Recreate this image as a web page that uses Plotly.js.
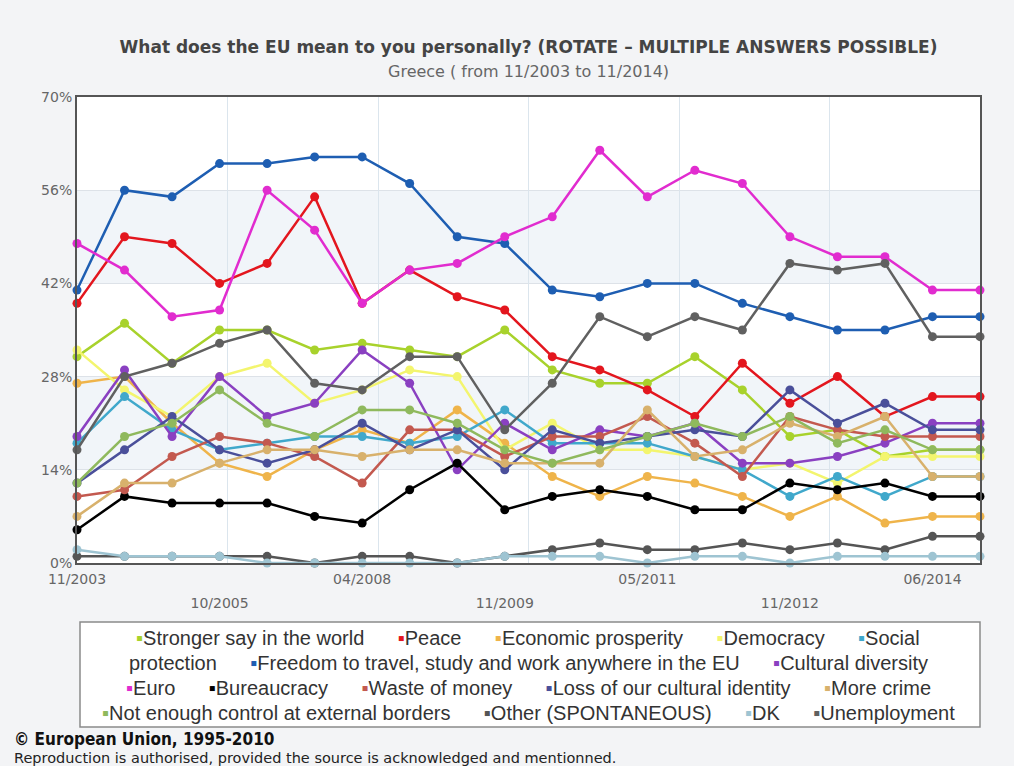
<!DOCTYPE html>
<html>
<head>
<meta charset="utf-8">
<script src="https://cdn.plot.ly/plotly-3.0.1.min.js"></script>
<style>
  html, body { margin: 0; padding: 0; background: #f3f4f6; }
  #chart { width: 1014px; height: 766px; }
</style>
</head>
<body>
<div id="chart"></div>
<script>
// ---------------- DATA ----------------
const tickPositions = [0, 3, 6, 9, 12, 15, 18];
const tickLabels = ['11/2003', '10/2005', '04/2008', '11/2009', '05/2011', '11/2012', '06/2014'];
const waveIndex = [0,1,2,3,4,5,6,7,8,9,10,11,12,13,14,15,16,17,18,19];
const yTickValues = [0, 14, 28, 42, 56, 70];

const strongerSay       = [31,36,30,35,35,32,33,32,31,35,29,27,27,31,26,19,20,16,17,17];
const peace             = [39,49,48,42,45,55,39,44,40,38,31,29,26,22,30,24,28,22,25,25];
const econProsperity    = [27,28,21,15,13,17,20,18,23,18,13,10,13,12,10,7,10,6,7,7];
const democracy         = [32,26,22,28,30,24,26,29,28,17,21,17,17,16,14,15,12,16,16,16];
const socialProtection  = [18,25,20,17,18,19,19,18,19,23,18,18,18,16,14,10,13,10,13,13];
const freedomToTravel   = [41,56,55,60,60,61,61,57,49,48,41,40,42,42,39,37,35,35,37,37];
const culturalDiversity = [19,29,19,28,22,24,32,27,14,21,17,20,19,21,15,15,16,18,21,21];
const euro              = [48,44,37,38,56,50,39,44,45,49,52,62,55,59,57,49,46,46,41,41];
const bureaucracy       = [5,10,9,9,9,7,6,11,15,8,10,11,10,8,8,12,11,12,10,10];
const wasteOfMoney      = [10,11,16,19,18,16,12,20,20,16,19,19,22,18,13,22,20,19,19,19];
const lossOfIdentity    = [12,17,22,17,15,17,21,17,20,14,20,18,19,20,19,26,21,24,20,20];
const moreCrime         = [7,12,12,15,17,17,16,17,17,15,15,15,23,16,17,21,19,22,13,13];
const notEnoughControl  = [12,19,21,26,21,19,23,23,21,17,15,17,19,21,19,22,18,20,17,17];
const otherSpontaneous  = [1,1,1,1,1,0,1,1,0,1,2,3,2,2,3,2,3,2,4,4];
const dontKnow          = [2,1,1,1,0,0,0,0,0,1,1,1,0,1,1,0,1,1,1,1];
const unemployment      = [17,28,30,33,35,27,26,31,31,20,27,37,34,37,35,45,44,45,34,34];

const seriesNames = [
  'Stronger say in the world', 'Peace', 'Economic prosperity', 'Democracy', 'Social protection',
  'Freedom to travel, study and work anywhere in the EU', 'Cultural diversity', 'Euro', 'Bureaucracy',
  'Waste of money', 'Loss of our cultural identity', 'More crime',
  'Not enough control at external borders', 'Other (SPONTANEOUS)', 'DK', 'Unemployment'
];
const seriesValues = [
  strongerSay, peace, econProsperity, democracy, socialProtection, freedomToTravel,
  culturalDiversity, euro, bureaucracy, wasteOfMoney, lossOfIdentity, moreCrime,
  notEnoughControl, otherSpontaneous, dontKnow, unemployment
];
const seriesColors = [
  '#a8d22c', '#e3161e', '#efb44a', '#f3f56e', '#40a8cb', '#1e5eb2', '#8a40c1', '#e12ccf',
  '#000000', '#c3594f', '#4a4f9a', '#d8b16c', '#8fb95d', '#555555', '#9ec4d2', '#606060'
];

// ---------------- LAYOUT GEOMETRY (pixels) ----------------
const FIG_W = 1014, FIG_H = 766;
const L = 77, R = 980, T = 97, B = 563;
const PW = R - L, PH = B - T;
const px2x = X => (X - L) / PW;
const px2y = Y => (B - Y) / PH;

const traces = seriesValues.map((vals, i) => ({
  type: 'scatter',
  mode: 'lines+markers',
  name: seriesNames[i],
  x: waveIndex,
  y: vals,
  line: { color: seriesColors[i], width: 2.5 },
  marker: { color: seriesColors[i], size: 9 },
  cliponaxis: false,
  showlegend: false,
  hoverinfo: 'skip'
}));

// ---------------- LEGEND (as wrapped text rows) ----------------
const LEG_FONT = '"Liberation Sans", Arial, sans-serif';
const LEG_SIZE = 20;
function buildLegendRows(maxW) {
  const ctx = document.createElement('canvas').getContext('2d');
  ctx.font = LEG_SIZE + 'px ' + LEG_FONT;
  const NB = '\u00A0';
  const spaceW = ctx.measureText(NB).width;
  const gapStr = NB.repeat(6);
  const gapW = ctx.measureText(gapStr).width;
  const words = [];
  seriesNames.forEach((name, i) => {
    const parts = name.split(' ');
    parts.forEach((w, j) => {
      if (j === 0) {
        const sq = '<span style="color:' + seriesColors[i] + '">\u25AA</span>';
        words.push({ html: sq + w, width: ctx.measureText('\u25AA' + w).width, sep: i === 0 ? '' : gapStr, sepW: i === 0 ? 0 : gapW });
      } else {
        words.push({ html: w, width: ctx.measureText(w).width, sep: NB, sepW: spaceW });
      }
    });
  });
  const rows = [];
  let cur = '', curW = 0;
  words.forEach(w => {
    if (cur !== '' && curW + w.sepW + w.width > maxW) {
      rows.push(cur); cur = ''; curW = 0;
    }
    if (cur === '') { cur = w.html; curW = w.width; }
    else { cur += w.sep + w.html; curW += w.sepW + w.width; }
  });
  if (cur) rows.push(cur);
  return rows;
}
const legendRows = buildLegendRows(872);
const legendRowY = [638, 663, 688, 713, 738];

const annotations = [
  {
    xref: 'paper', yref: 'paper', x: 0.5, y: px2y(72), xanchor: 'center', yanchor: 'middle',
    text: 'Greece ( from 11/2003 to 11/2014)', showarrow: false,
    font: { family: 'DejaVu Sans, Verdana, sans-serif', size: 16, color: '#666666' }
  },
  {
    xref: 'paper', yref: 'paper', x: px2x(12), y: px2y(739), xanchor: 'left', yanchor: 'middle',
    text: '<b>\u00A9 European Union, 1995-2010</b>', showarrow: false,
    font: { family: 'DejaVu Sans Condensed, DejaVu Sans, sans-serif', size: 17, color: '#111111' }
  },
  {
    xref: 'paper', yref: 'paper', x: px2x(12), y: px2y(757.5), xanchor: 'left', yanchor: 'middle',
    text: 'Reproduction is authorised, provided the source is acknowledged and mentionned.', showarrow: false,
    font: { family: 'DejaVu Sans, Verdana, sans-serif', size: 14.5, color: '#222222' }
  }
];
legendRows.forEach((row, k) => {
  annotations.push({
    xref: 'paper', yref: 'paper', x: px2x(528), y: px2y(legendRowY[k]), xanchor: 'center', yanchor: 'middle',
    text: row, showarrow: false,
    font: { family: LEG_FONT, size: LEG_SIZE, color: '#333333' }
  });
});

const shapes = [
  { type: 'rect', xref: 'paper', yref: 'y', x0: 0, x1: 1, y0: 14, y1: 28, fillcolor: '#f1f5f9', line: { width: 0 }, layer: 'below' },
  { type: 'rect', xref: 'paper', yref: 'y', x0: 0, x1: 1, y0: 42, y1: 56, fillcolor: '#f1f5f9', line: { width: 0 }, layer: 'below' },
  { type: 'rect', xref: 'paper', yref: 'paper', x0: px2x(80), x1: px2x(980), y0: px2y(622), y1: px2y(727),
    fillcolor: '#ffffff', line: { color: '#8a8a8a', width: 1.5 }, layer: 'below' }
];

const axisFont = { family: 'DejaVu Sans, Verdana, sans-serif', size: 14, color: '#666666' };

const layout = {
  width: FIG_W, height: FIG_H,
  paper_bgcolor: '#f3f4f6',
  plot_bgcolor: '#ffffff',
  margin: { l: L, r: FIG_W - R, t: T, b: FIG_H - B, pad: 0 },
  showlegend: false,
  title: {
    text: '<b>What does the EU mean to you personally? (ROTATE \u2013 MULTIPLE ANSWERS POSSIBLE)</b>',
    xref: 'paper', x: 0.5, xanchor: 'center',
    yref: 'container', y: 1 - 47 / FIG_H, yanchor: 'middle',
    font: { family: 'DejaVu Sans, Verdana, sans-serif', size: 17, color: '#444444' }
  },
  xaxis: {
    range: [0, 19], showgrid: false, zeroline: false,
    tickvals: tickPositions.filter((_, k) => k % 2 === 0),
    ticktext: tickLabels.filter((_, k) => k % 2 === 0),
    ticks: '', tickfont: axisFont, ticklabelstandoff: 2,
    showline: true, linecolor: '#555555', linewidth: 2, mirror: true
  },
  xaxis2: {
    overlaying: 'x', anchor: 'y', side: 'bottom', range: [0, 19],
    tickvals: tickPositions.filter((_, k) => k % 2 === 1),
    ticktext: tickLabels.filter((_, k) => k % 2 === 1),
    ticks: '', tickfont: axisFont, ticklabelstandoff: 30,
    showgrid: false, zeroline: false, showline: false
  },
  xaxis3: {
    overlaying: 'x', anchor: 'y', range: [0, 6], dtick: 1, tick0: 0,
    showgrid: true, gridcolor: '#dbe5ed', gridwidth: 1,
    showticklabels: false, ticks: '', zeroline: false, showline: false
  },
  yaxis: {
    range: [0, 70], tickvals: yTickValues, ticktext: yTickValues.map(v => v + '%'),
    showgrid: true, gridcolor: '#dde2e8', gridwidth: 1, zeroline: false,
    ticks: '', tickfont: axisFont,
    showline: true, linecolor: '#555555', linewidth: 2, mirror: true
  },
  shapes: shapes,
  annotations: annotations
};

// dummy traces to activate the helper axes
traces.unshift({ type: 'scatter', x: [], y: [], xaxis: 'x3', yaxis: 'y', showlegend: false, hoverinfo: 'skip' });
traces.unshift({ type: 'scatter', x: [], y: [], xaxis: 'x2', yaxis: 'y', showlegend: false, hoverinfo: 'skip' });

Plotly.newPlot('chart', traces, layout, { displayModeBar: false, staticPlot: true });
</script>
</body>
</html>
